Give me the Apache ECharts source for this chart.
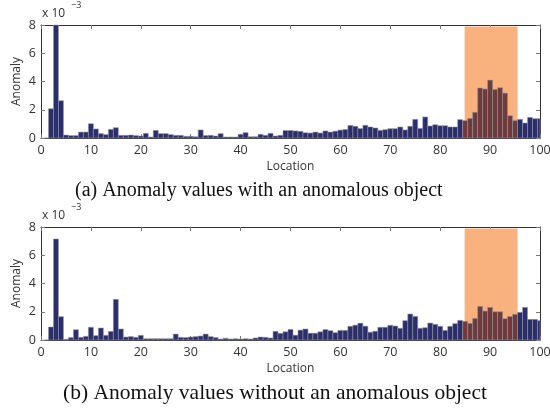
<!DOCTYPE html>
<html>
<head>
<meta charset="utf-8">
<script src="https://cdn.jsdelivr.net/npm/echarts@6/dist/echarts.min.js"></script>
<style>
  html, body { margin: 0; padding: 0; background: #fff; }
  #chart { width: 550px; height: 409px; }
</style>
</head>
<body>
<div id="chart"></div>
<script>
// Locations along the scan line (1..100)
const locations = Array.from({ length: 100 }, (_, i) => i + 1);

// Anomaly score per location, in units of 1e-3, with the object present
const anomalyWithObject = [
  0, 2.07, 8.0, 2.64, 0.21, 0.17, 0.17, 0.42, 0.42, 1.01,
  0.64, 0.31, 0.24, 0.61, 0.73, 0.19, 0.19, 0.21, 0.17, 0.14,
  0.33, 0.07, 0.54, 0.31, 0.31, 0.24, 0.19, 0.19, 0.12, 0.12,
  0.09, 0.57, 0.17, 0.19, 0.14, 0.31, 0.07, 0.07, 0.07, 0.26,
  0.38, 0.09, 0.09, 0.26, 0.19, 0.33, 0.14, 0.19, 0.53, 0.53,
  0.50, 0.47, 0.37, 0.35, 0.42, 0.35, 0.50, 0.42, 0.48, 0.56,
  0.60, 0.89, 0.83, 0.67, 0.90, 0.78, 0.71, 0.54, 0.59, 0.66,
  0.66, 0.78, 0.57, 0.83, 1.32, 0.68, 1.49, 0.85, 0.94, 0.87,
  0.87, 0.78, 0.78, 1.30, 1.23, 1.39, 1.82, 3.54, 3.47, 4.10,
  3.44, 3.56, 3.18, 1.58, 1.23, 1.32, 1.06, 1.46, 1.37, 1.37
];

// Anomaly score per location, in units of 1e-3, without the object
const anomalyWithoutObject = [
  0, 0.92, 7.15, 1.65, 0.05, 0.17, 0.73, 0.19, 0.26, 0.90,
  0.31, 0.85, 0.33, 0.61, 2.88, 0.78, 0.21, 0.24, 0.19, 0.33,
  0.09, 0.09, 0.09, 0.09, 0.09, 0.09, 0.42, 0.19, 0.17, 0.21,
  0.24, 0.28, 0.42, 0.24, 0.17, 0.07, 0.12, 0.07, 0.09, 0.07,
  0.09, 0.07, 0.14, 0.21, 0.19, 0.14, 0.61, 0.47, 0.58, 0.75,
  0.34, 0.70, 0.78, 0.48, 0.48, 0.58, 0.74, 0.66, 0.52, 0.68,
  0.68, 0.97, 1.05, 1.19, 0.98, 0.55, 0.62, 0.90, 0.90, 1.04,
  0.99, 0.83, 1.37, 1.84, 1.67, 0.83, 0.87, 1.20, 1.11, 0.97,
  0.68, 0.97, 1.16, 1.39, 1.32, 1.18, 1.53, 2.38, 2.05, 2.31,
  2.00, 2.00, 1.51, 1.67, 1.82, 1.96, 2.31, 1.46, 1.46, 1.37
];

// Object region: [start, end] along location, height in 1e-3 units
const objectRegion = [84.9, 95.5];
const objectRegionTop = 7.9;

const xTicks = [0, 10, 20, 30, 40, 50, 60, 70, 80, 90, 100];
const yTicks = [0, 2, 4, 6, 8];

const captions = [
  '(a) Anomaly values with an anomalous object',
  '(b) Anomaly values without an anomalous object'
];

const BAR = '#2b2e6c';
const BAR_IN_REGION = '#6f3a3c';
const REGION = '#f9b27e';
const AXIS = '#333';
const LABEL_FONT = '"Open Sans", "DejaVu Sans", sans-serif';

const chart = echarts.init(document.getElementById('chart'), null, { renderer: 'canvas' });

const grids = [
  { left: 41, top: 25, width: 499, height: 113, outerBoundsMode: 'none', containLabel: false },
  { left: 41, top: 227, width: 499, height: 113, outerBoundsMode: 'none', containLabel: false }
];

function clipTo(rect, cs) {
  return echarts.graphic.clipRectByRect(rect, { x: cs.x, y: cs.y, width: cs.width, height: cs.height });
}

function renderBar(params, api) {
  const x = api.value(0);
  const y = api.value(1);
  const p0 = api.coord([x - 0.5, y]);
  const p1 = api.coord([x + 0.5, 0]);
  const shape = clipTo({ x: p0[0], y: p0[1], width: p1[0] - p0[0], height: p1[1] - p0[1] }, params.coordSys);
  if (!shape) return null;
  const inRegion = x >= objectRegion[0] && x <= objectRegion[1];
  return {
    type: 'rect',
    shape: shape,
    style: { fill: inRegion ? BAR_IN_REGION : BAR, stroke: 'rgba(150,150,160,0.9)', lineWidth: 0.6 }
  };
}

function renderRegion(params, api) {
  const p0 = api.coord([api.value(0), api.value(2)]);
  const p1 = api.coord([api.value(1), 0]);
  const shape = clipTo({ x: p0[0], y: p0[1], width: p1[0] - p0[0], height: p1[1] - p0[1] }, params.coordSys);
  return shape && { type: 'rect', shape: shape, style: { fill: REGION } };
}

const xAxes = [];
const yAxes = [];
const series = [];
const graphics = [];

[anomalyWithObject, anomalyWithoutObject].forEach((values, g) => {
  const common = {
    gridIndex: g,
    type: 'value',
    splitLine: { show: false },
    axisLine: { show: true, onZero: false, lineStyle: { color: AXIS, width: 1 } },
    axisTick: { show: true, inside: true, length: 4, lineStyle: { color: '#777' } }
  };
  xAxes.push(Object.assign({}, common, {
    position: 'bottom', min: xTicks[0], max: xTicks[xTicks.length - 1], interval: 10,
    axisLabel: { color: '#333', fontSize: 12.5, fontFamily: LABEL_FONT, margin: 6 },
    name: 'Location', nameLocation: 'middle', nameGap: 23, nameMoveOverlap: false,
    nameTextStyle: { color: '#333', fontSize: 12, fontFamily: LABEL_FONT }
  }));
  xAxes.push(Object.assign({}, common, {
    position: 'top', min: xTicks[0], max: xTicks[xTicks.length - 1], interval: 10,
    axisLabel: { show: false }
  }));
  yAxes.push(Object.assign({}, common, {
    position: 'left', min: yTicks[0], max: yTicks[yTicks.length - 1], interval: 2,
    axisLabel: { color: '#333', fontSize: 12.5, fontFamily: LABEL_FONT, margin: 5 },
    name: 'Anomaly', nameLocation: 'middle', nameGap: 18, nameRotate: 90, nameMoveOverlap: false,
    nameTextStyle: { color: '#333', fontSize: 12, fontFamily: LABEL_FONT }
  }));
  yAxes.push(Object.assign({}, common, {
    position: 'right', min: yTicks[0], max: yTicks[yTicks.length - 1], interval: 2,
    axisLabel: { show: false }
  }));

  series.push({
    type: 'custom',
    xAxisIndex: g * 2, yAxisIndex: g * 2,
    renderItem: renderRegion,
    data: [[objectRegion[0], objectRegion[1], objectRegionTop]],
    z: 1, silent: true
  });
  series.push({
    type: 'custom',
    xAxisIndex: g * 2, yAxisIndex: g * 2,
    renderItem: renderBar,
    data: locations.map((loc, i) => [loc, values[i]]),
    z: 2, silent: true
  });

  const top = grids[g].top;
  graphics.push({
    type: 'text', left: 42, top: top - 17,
    style: { text: 'x 10', fill: '#333', font: '12px ' + LABEL_FONT }
  });
  graphics.push({
    type: 'text', left: 71, top: top - 24,
    style: { text: '\u22123', fill: '#333', font: '9px ' + LABEL_FONT }
  });
});

graphics.push({
  type: 'text', left: 75, top: 181,
  style: { text: captions[0], fill: '#111', font: '20px "Liberation Serif", "Times New Roman", serif' }
});
graphics.push({
  type: 'text', left: 63, top: 382,
  style: { text: captions[1], fill: '#111', font: '21.5px "Liberation Serif", "Times New Roman", serif' }
});

chart.setOption({
  animation: false,
  backgroundColor: '#fff',
  grid: grids,
  xAxis: xAxes,
  yAxis: yAxes,
  series: series,
  graphic: graphics
});
</script>
</body>
</html>
